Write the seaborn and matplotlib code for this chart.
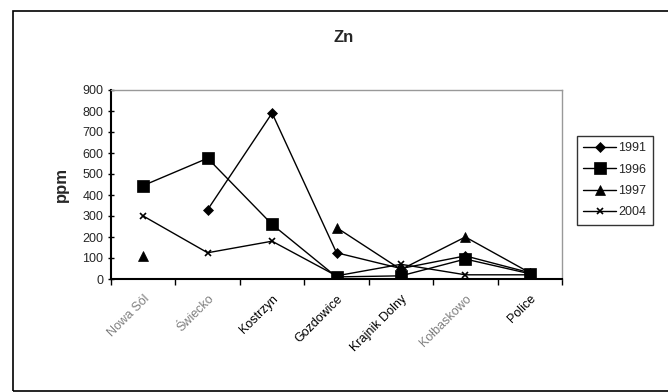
import numpy as np
import pandas as pd
import matplotlib
matplotlib.use("Agg")
import matplotlib.pyplot as plt
import seaborn as sns
from matplotlib.patches import Rectangle
from matplotlib.transforms import ScaledTranslation

sites = ["Nowa Sól", "Świecko", "Kostrzyn", "Gozdowice", "Krajnik Dolny", "Kołbaskowo", "Police"]
years = ["1991", "1996", "1997", "2004"]
v1991 = [np.nan, 330, 790, 125, 50, 110, 30]
v1996 = [445, 575, 260, 10, 15, 95, 25]
v1997 = [110, np.nan, np.nan, 245, 45, 200, 30]
v2004 = [300, 125, 180, 15, 70, 20, 20]
yticks = [0, 100, 200, 300, 400, 500, 600, 700, 800, 900]

series = {"1991": v1991, "1996": v1996, "1997": v1997, "2004": v2004}
markers = {"1991": "D", "1996": "s", "1997": "^", "2004": "x"}
msizes = {"1991": 5, "1996": 8, "1997": 7, "2004": 5}

sns.set_theme(style="white")
plt.rcParams['font.family'] = ['Liberation Sans', 'DejaVu Sans']

fig = plt.figure(figsize=(6.68, 3.92), dpi=100)
ax = fig.add_axes([111/668, 1-279/392, (562-111)/668, (279-90)/392])

pos = np.arange(len(sites))
for yr in years:
    vals = np.array(series[yr], dtype=float)
    segs = []
    cur = []
    for i, v in enumerate(vals):
        if np.isnan(v):
            if cur:
                segs.append(cur)
            cur = []
        else:
            cur.append(i)
    if cur:
        segs.append(cur)
    for k, seg in enumerate(segs):
        df = pd.DataFrame({"x": pos[seg], "y": vals[seg]})
        sns.lineplot(data=df, x="x", y="y", ax=ax, color="black", linewidth=1,
                     marker=markers[yr], markersize=msizes[yr], markeredgecolor="black",
                     markerfacecolor="black", markeredgewidth=1.2 if yr == "2004" else 0.5,
                     label=yr if k == 0 else None, legend=False, estimator=None, sort=False)

ax.set_xlim(-0.5, len(sites) - 0.5)
ax.set_ylim(0, 900)
ax.set_yticks(yticks)
ax.set_yticklabels([str(t) for t in yticks], fontsize=9)
ax.set_xticks(pos)
label_colors = ["#808080", "#808080", "black", "black", "black", "#808080", "black"]
ax.set_xticklabels(sites, rotation=45, ha="right", rotation_mode="anchor", fontsize=9)
offset = ScaledTranslation(-8/100, 0, fig.dpi_scale_trans)
for lab, c in zip(ax.get_xticklabels(), label_colors):
    lab.set_color(c)
    lab.set_transform(lab.get_transform() + offset)
ax.set_xticks(np.arange(-0.5, len(sites), 1.0), minor=True)
ax.tick_params(axis="x", which="major", length=0, pad=10)
ax.tick_params(axis="x", which="minor", length=4, width=1, color="black", direction="out", bottom=True)
ax.tick_params(axis="y", which="major", length=5, width=1, color="black", direction="inout", left=True, pad=3)
ax.set_xlabel("")
ax.set_ylabel("ppm", fontsize=12, fontweight="bold", labelpad=10)

for s in ["left", "bottom"]:
    ax.spines[s].set_color("black")
    ax.spines[s].set_linewidth(1.5)
for s in ["top", "right"]:
    ax.spines[s].set_visible(True)
    ax.spines[s].set_color("#999999")
    ax.spines[s].set_linewidth(1)

fig.text(344/668, 1-38/392, "Zn", fontsize=12, fontweight="bold", ha="center", va="center")

handles, labels = ax.get_legend_handles_labels()
leg = fig.legend(handles, labels, loc="upper left", bbox_to_anchor=(577/668, 1-136/392),
                 fontsize=9, frameon=True, fancybox=False, edgecolor="black",
                 handlelength=2.6, handletextpad=0.2, labelspacing=0.75, borderpad=0.5,
                 borderaxespad=0)
leg.get_frame().set_linewidth(1)

fig.patches.append(Rectangle((13/668, 1/392), 1.0, (391-11)/392, transform=fig.transFigure,
                             fill=False, edgecolor="black", linewidth=1.2, clip_on=True))

fig.savefig("out.png", dpi=100, facecolor="white")
